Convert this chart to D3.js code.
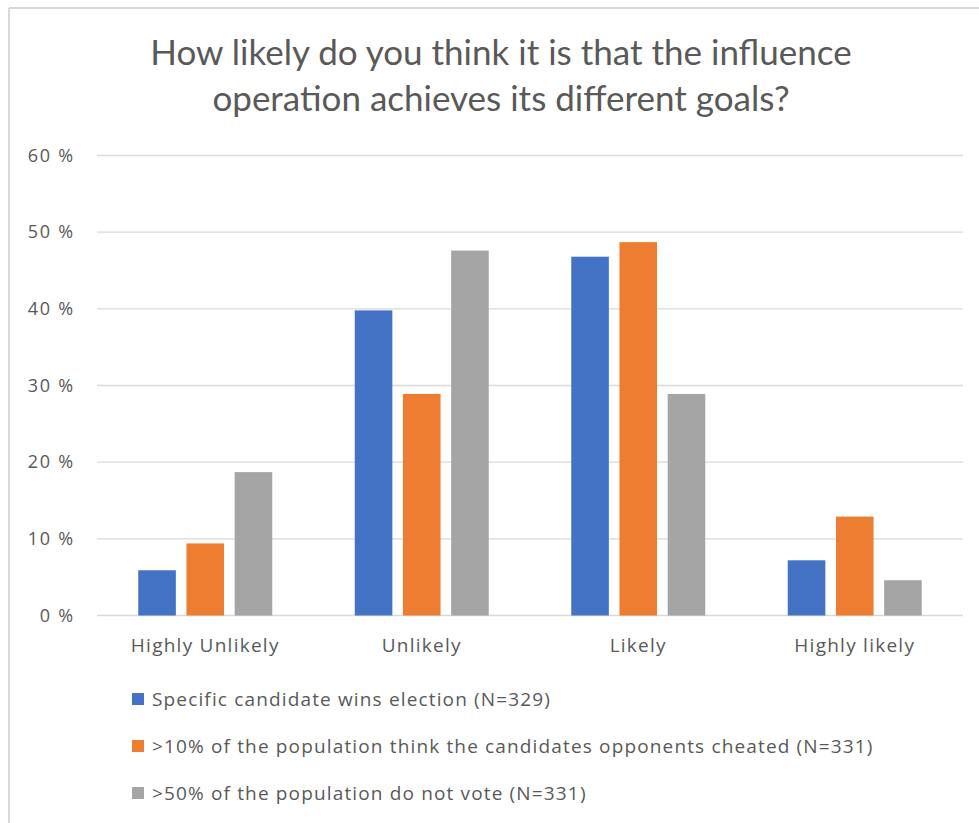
<!DOCTYPE html>
<html>
<head>
<meta charset="utf-8">
<script src="https://cdn.jsdelivr.net/npm/d3@7"></script>
<style>
  html, body { margin: 0; padding: 0; background: #ffffff; }
  svg { display: block; }
</style>
</head>
<body>
<svg id="chart" width="979" height="823"></svg>
<script>
// Survey responses (% of respondents) per likelihood category
const categories = ["Highly Unlikely", "Unlikely", "Likely", "Highly likely"];
const seriesNames = [
  "Specific candidate wins election (N=329)",
  ">10% of the population think the candidates opponents cheated (N=331)",
  ">50% of the population do not vote (N=331)"
];
const candidateWins = [5.9, 39.8, 46.8, 7.2];
const opponentsCheated = [9.4, 28.9, 48.7, 12.9];
const doNotVote = [18.7, 47.6, 28.9, 4.6];
const yTicks = [0, 10, 20, 30, 40, 50, 60];
const titleLines = [
  "How likely do you think it is that the influence",
  "operation achieves its different goals?"
];

const seriesValues = [candidateWins, opponentsCheated, doNotVote];
const colors = ["#4472C4", "#ED7D31", "#A5A5A5"];
const textColor = "#595959";
const gridColor = "#d9d9d9";
const labelFont = "'Open Sans', sans-serif";

const svg = d3.select("#chart");

// outer frame of the chart area (top and left edges)
svg.append("line").attr("x1", 9).attr("x2", 979).attr("y1", 8).attr("y2", 8)
  .attr("stroke", "#d9d9d9").attr("stroke-width", 2);
svg.append("line").attr("x1", 9).attr("x2", 9).attr("y1", 8).attr("y2", 823)
  .attr("stroke", "#d9d9d9").attr("stroke-width", 2);

const plot = { left: 97, right: 963, top: 155.5, bottom: 615.5 };

const x = d3.scaleBand().domain(categories).range([plot.left, plot.right]).paddingInner(0).paddingOuter(0);
const groupWidth = 134;
const xs = d3.scaleBand().domain(d3.range(seriesNames.length)).range([0, groupWidth]).paddingInner(0.22).paddingOuter(0);
const y = d3.scaleLinear().domain([0, 60]).range([plot.bottom, plot.top]);

// title
const title = svg.append("text")
  .attr("text-anchor", "middle")
  .attr("font-family", "Lato, 'Open Sans', sans-serif")
  .attr("font-size", 35)
  .attr("fill", textColor);
titleLines.forEach((line, i) => {
  title.append("tspan").attr("x", 501).attr("y", 65 + i * 46).text(line);
});

// gridlines
svg.append("g")
  .selectAll("line")
  .data(yTicks)
  .join("line")
  .attr("x1", plot.left).attr("x2", plot.right)
  .attr("y1", d => y(d)).attr("y2", d => y(d))
  .attr("stroke", gridColor).attr("stroke-width", 1.3);

// y axis labels
const yAxis = d3.axisLeft(y).tickValues(yTicks).tickSize(0).tickPadding(0)
  .tickFormat(d => d + " %");
svg.append("g")
  .attr("transform", `translate(75,0)`)
  .call(yAxis)
  .call(g => g.select(".domain").remove())
  .call(g => g.selectAll("text")
    .attr("font-family", labelFont)
    .attr("font-size", 18)
    .attr("letter-spacing", 1.8)
    .attr("fill", textColor));

// x axis labels
const xAxis = d3.axisBottom(x).tickSize(0).tickPadding(0);
svg.append("g")
  .attr("transform", `translate(0,${plot.bottom + 23})`)
  .call(xAxis)
  .call(g => g.select(".domain").remove())
  .call(g => g.selectAll("text")
    .attr("font-family", labelFont)
    .attr("font-size", 19)
    .attr("letter-spacing", 1.25)
    .attr("fill", textColor));

// bars
const groups = svg.append("g")
  .selectAll("g")
  .data(categories)
  .join("g")
  .attr("transform", d => `translate(${x(d) + (x.bandwidth() - groupWidth) / 2},0)`);

groups.selectAll("rect")
  .data((d, ci) => seriesValues.map((vals, si) => ({ si, v: vals[ci] })))
  .join("rect")
  .attr("x", d => xs(d.si))
  .attr("width", xs.bandwidth())
  .attr("y", d => y(d.v))
  .attr("height", d => y(0) - y(d.v))
  .attr("fill", d => colors[d.si]);

// legend
const legend = svg.append("g")
  .selectAll("g")
  .data(seriesNames)
  .join("g")
  .attr("transform", (d, i) => `translate(132,${699 + i * 47})`);
legend.append("rect")
  .attr("x", 0).attr("y", -6).attr("width", 12).attr("height", 12)
  .attr("fill", (d, i) => colors[i]);
legend.append("text")
  .attr("x", 20).attr("y", 0).attr("dy", "0.35em")
  .attr("font-family", labelFont)
  .attr("font-size", 19)
  .attr("letter-spacing", 1.15)
  .attr("fill", textColor)
  .text(d => d);
</script>
</body>
</html>
